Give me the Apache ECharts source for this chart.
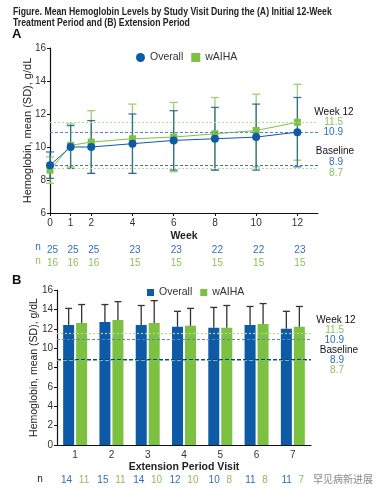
<!DOCTYPE html>
<html><head><meta charset="utf-8">
<style>html,body{margin:0;padding:0;background:#fff}#c{width:381px;height:497px}</style>
<script src="https://cdn.jsdelivr.net/npm/echarts@6/dist/echarts.min.js"></script>
</head><body><div id="c"></div>
<script>
// ---- Panel A data ----
const weeks = [0, 1, 2, 4, 6, 8, 10, 12];
const overallMeanA = [8.9, 10.0, 10.0, 10.2, 10.4, 10.5, 10.6, 10.9];
const overallSdA   = [0.8, 1.3, 1.6, 1.8, 1.8, 1.9, 2.0, 2.1];
const waihaMeanA   = [8.6, 10.1, 10.3, 10.5, 10.6, 10.8, 11.0, 11.5];
const waihaSdA     = [0.8, 1.3, 1.9, 2.1, 2.1, 2.2, 2.2, 2.3];
const nOverallA = [25, 25, 25, 23, 23, 22, 22, 23];
const nWaihaA   = [16, 16, 16, 15, 15, 15, 15, 15];
// ---- Panel B data ----
const visits = ['1', '2', '3', '4', '5', '6', '7'];
const overallMeanB = [12.4, 12.7, 12.4, 12.2, 12.1, 12.4, 12.0];
const overallSdB   = [1.7, 1.8, 2.0, 1.6, 2.1, 1.9, 1.8];
const waihaMeanB   = [12.6, 12.9, 12.6, 12.3, 12.1, 12.5, 12.2];
const waihaSdB     = [1.9, 1.9, 2.3, 1.8, 2.3, 2.1, 2.1];
const nOverallB = [14, 15, 14, 12, 10, 11, 11];
const nWaihaB   = [11, 11, 10, 10, 8, 8, 7];
// reference values
const week12Overall = 10.9, week12Waiha = 11.5;
const baseOverall = 8.9, baseWaiha = 8.7;

const BLUE = '#0d5aa7', GREEN = '#7dc142';
const TBLUE = '#2f6fb5', TGREEN = '#8cc25a';
const FONT = 'Liberation Sans, Arial, sans-serif';
const chart = echarts.init(document.getElementById('c'));

function errBarSeries(name, xIdx, yIdx, xs, means, sds, color, opts) {
  opts = opts || {};
  return {
    type: 'custom', name: name, xAxisIndex: xIdx, yAxisIndex: yIdx, z: opts.z || 3,
    silent: true,
    data: xs.map((x, i) => [x, means[i], sds[i]]),
    renderItem: function (params, api) {
      const x = api.value(0), m = api.value(1), s = api.value(2);
      const off = opts.offset || 0;
      const top = api.coord([x, m + s]);
      const bot = api.coord([x, opts.upOnly ? m : m - s]);
      const cx = top[0] + off, hw = opts.cap || 4;
      const style = { stroke: color, lineWidth: opts.lw || 1.3, opacity: opts.opacity || 1 };
      const children = [
        { type: 'line', shape: { x1: cx, y1: top[1], x2: cx, y2: bot[1] }, style: style },
        { type: 'line', shape: { x1: cx - hw, y1: top[1], x2: cx + hw, y2: top[1] }, style: style }
      ];
      if (!opts.upOnly) children.push({ type: 'line', shape: { x1: cx - hw, y1: bot[1], x2: cx + hw, y2: bot[1] }, style: style });
      return { type: 'group', children: children };
    }
  };
}

function refLines(xIdx, yIdx, lines) {
  return {
    type: 'line', xAxisIndex: xIdx, yAxisIndex: yIdx, data: [], z: 1, silent: true,
    markLine: {
      symbol: ['none', 'none'], silent: true, label: { show: false },
      data: lines.map(l => ({ yAxis: l.v, lineStyle: { color: l.c, type: l.t, width: 1.2 } }))
    }
  };
}

const refA = [
  { v: week12Waiha, c: '#b5d98e', t: [2, 2] },
  { v: week12Overall, c: '#5b86c4', t: [3, 2] },
  { v: baseOverall, c: '#4070b8', t: [3, 2] },
  { v: baseWaiha, c: '#b5d98e', t: [2, 2] }
];
const refB = [
  { v: week12Waiha, c: '#b5d98e', t: [2, 2] },
  { v: week12Overall, c: '#5b86c4', t: [3, 2] },
  { v: baseOverall, c: '#1a3f73', t: [4, 2] },
  { v: baseWaiha, c: '#6fc0a0', t: [4, 2] }
];

const axisTxt = { color: '#333', fontSize: 10, fontFamily: FONT };

function txt(x, y, text, fill, align, extra) {
  return { type: 'text', x: x, y: y, style: Object.assign({ text: text, fontSize: 10, fill: fill, align: align, verticalAlign: 'middle', fontFamily: FONT }, extra || {}) };
}

const option = {
  animation: false,
  textStyle: { fontFamily: FONT },
  legend: [
    { left: 131, top: 47, itemWidth: 9, itemHeight: 9, itemGap: 8, textStyle: { fontSize: 10.5, color: '#333' },
      data: [{ name: 'Overall', icon: 'circle' }, { name: 'wAIHA', icon: 'rect' }] },
    { left: 142, top: 282, itemWidth: 7, itemHeight: 7, itemGap: 8, textStyle: { fontSize: 10.5, color: '#333' },
      data: [{ name: 'Overall B', icon: 'rect' }, { name: 'wAIHA B', icon: 'rect' }],
      formatter: n => n.replace(' B', '') }
  ],
  grid: [
    { left: 50, top: 48, width: 268, height: 165 },
    { left: 57, top: 290, width: 254, height: 155 }
  ],
  xAxis: [
    { gridIndex: 0, type: 'value', min: 0, max: 13, interval: 1,
      name: 'Week', nameLocation: 'middle', nameGap: 18, nameMoveOverlap: false,
      nameTextStyle: { fontSize: 10.5, fontWeight: 'bold', color: '#222' },
      axisLine: { lineStyle: { color: '#111', width: 1.2 } },
      axisTick: { length: 3, lineStyle: { color: '#111' }, customValues: weeks },
      axisLabel: Object.assign({ margin: 5, customValues: weeks }, axisTxt),
      splitLine: { show: false } },
    { gridIndex: 0, type: 'value', min: 0, max: 13, interval: 1, position: 'bottom',
      axisLine: { show: false }, axisTick: { show: false }, splitLine: { show: false },
      axisLabel: { margin: 30, customValues: weeks, padding: [0, 0, 0, 5],
        formatter: v => { const i = weeks.indexOf(v); return '{b|' + nOverallA[i] + '}\n{g|' + nWaihaA[i] + '}'; },
        rich: { b: { color: TBLUE, fontSize: 10, lineHeight: 13.5 }, g: { color: TGREEN, fontSize: 10, lineHeight: 13.5 } } } },
    { gridIndex: 1, type: 'category', data: visits,
      name: 'Extension Period Visit', nameLocation: 'middle', nameGap: 17, nameMoveOverlap: false,
      nameTextStyle: { fontSize: 10.5, fontWeight: 'bold', color: '#222' },
      axisLine: { lineStyle: { color: '#111', width: 1.2 } },
      axisTick: { show: false },
      axisLabel: Object.assign({ margin: 5, interval: 0 }, axisTxt) },
    { gridIndex: 1, type: 'category', data: visits, position: 'bottom',
      axisLine: { show: false }, axisTick: { show: false },
      axisLabel: { margin: 29, interval: 0, hideOverlap: false,
        formatter: (v, i) => '{b|' + nOverallB[i] + '}  {g|' + nWaihaB[i] + '}',
        rich: { b: { color: TBLUE, fontSize: 10 }, g: { color: TGREEN, fontSize: 10 } } } }
  ],
  yAxis: [
    { gridIndex: 0, type: 'value', min: 6, max: 16, interval: 2,
      name: 'Hemoglobin, mean (SD), g/dL', nameLocation: 'middle', nameGap: 17, nameMoveOverlap: false,
      nameTextStyle: { fontSize: 11, color: '#222' },
      axisLine: { show: true, lineStyle: { color: '#111', width: 1.2 } },
      axisTick: { show: true, length: 3, lineStyle: { color: '#111' } },
      axisLabel: Object.assign({ margin: 4 }, axisTxt), splitLine: { show: false } },
    { gridIndex: 1, type: 'value', min: 0, max: 16, interval: 2,
      name: 'Hemoglobin, mean (SD), g/dL', nameLocation: 'middle', nameGap: 17, nameMoveOverlap: false,
      nameTextStyle: { fontSize: 10.5, color: '#222' },
      axisLine: { show: true, lineStyle: { color: '#111', width: 1.2 } },
      axisTick: { show: true, length: 3, lineStyle: { color: '#111' } },
      axisLabel: Object.assign({ margin: 4 }, axisTxt), splitLine: { show: false } }
  ],
  series: [
    refLines(0, 0, refA),
    errBarSeries('errWA', 0, 0, weeks, waihaMeanA, waihaSdA, '#9fcd6f', { cap: 4, lw: 1.3, z: 2 }),
    errBarSeries('errOA', 0, 0, weeks, overallMeanA, overallSdA, '#1f5f8f', { cap: 4, lw: 1.3, z: 3, opacity: 0.85 }),
    { type: 'line', name: 'wAIHA', xAxisIndex: 0, yAxisIndex: 0, z: 4,
      data: weeks.map((w, i) => [w, waihaMeanA[i]]),
      symbol: 'rect', symbolSize: 7, itemStyle: { color: GREEN }, lineStyle: { color: GREEN, width: 1 } },
    { type: 'line', name: 'Overall', xAxisIndex: 0, yAxisIndex: 0, z: 5,
      data: weeks.map((w, i) => [w, overallMeanA[i]]),
      symbol: 'circle', symbolSize: 8, itemStyle: { color: BLUE }, lineStyle: { color: BLUE, width: 1 } },

    refLines(2, 1, refB),
    { type: 'bar', name: 'Overall B', xAxisIndex: 2, yAxisIndex: 1, z: 3, data: overallMeanB,
      barWidth: 11, barGap: '18%', itemStyle: { color: BLUE } },
    { type: 'bar', name: 'wAIHA B', xAxisIndex: 2, yAxisIndex: 1, z: 3, data: waihaMeanB,
      barWidth: 11, itemStyle: { color: GREEN } },
    errBarSeries('errOB', 2, 1, visits.map((v, i) => i), overallMeanB, overallSdB, '#333', { cap: 3.5, lw: 1.3, z: 4, upOnly: true, offset: -6.5 }),
    errBarSeries('errWB', 2, 1, visits.map((v, i) => i), waihaMeanB, waihaSdB, '#333', { cap: 3.5, lw: 1.3, z: 4, upOnly: true, offset: 6.5 })
  ],
  graphic: [
    { type: 'text', x: 13, y: 7, scaleX: 0.87,
      style: { text: 'Figure. Mean Hemoglobin Levels by Study Visit During the (A) Initial 12-Week\nTreatment Period and (B) Extension Period',
        fontSize: 10, fontWeight: 'bold', fill: '#222', lineHeight: 11, fontFamily: FONT } },
    { type: 'text', left: 12, top: 28, style: { text: 'A', fontSize: 13, fontWeight: 'bold', fill: '#111', fontFamily: FONT } },
    { type: 'text', left: 12, top: 274, style: { text: 'B', fontSize: 13, fontWeight: 'bold', fill: '#111', fontFamily: FONT } },
    // panel A right labels
    txt(334, 112, 'Week 12', '#111', 'center'),
    txt(343, 122.5, week12Waiha.toFixed(1), TGREEN, 'right'),
    txt(343, 132.5, week12Overall.toFixed(1), TBLUE, 'right'),
    txt(335, 151.5, 'Baseline', '#111', 'center'),
    txt(343, 162, baseOverall.toFixed(1), TBLUE, 'right'),
    txt(343, 173.5, baseWaiha.toFixed(1), TGREEN, 'right'),
    txt(38, 247.5, 'n', TBLUE, 'center'),
    txt(38, 261, 'n', TGREEN, 'center'),
    // panel B right labels
    txt(336, 320, 'Week 12', '#111', 'center'),
    txt(344, 330.5, week12Waiha.toFixed(1), TGREEN, 'right'),
    txt(344, 340, week12Overall.toFixed(1), TBLUE, 'right'),
    txt(339, 350.5, 'Baseline', '#111', 'center'),
    txt(344, 360, baseOverall.toFixed(1), TBLUE, 'right'),
    txt(344, 370.5, baseWaiha.toFixed(1), TGREEN, 'right'),
    txt(40, 479, 'n', '#222', 'center'),
    // watermark
    { type: 'text', x: 313, y: 479, z: 10, style: { text: '罕见病新进展', fontSize: 10, fill: '#8a8a8a', verticalAlign: 'middle', fontFamily: 'Noto Sans CJK SC, sans-serif' } }
  ]
};
chart.setOption(option);
</script></body></html>
